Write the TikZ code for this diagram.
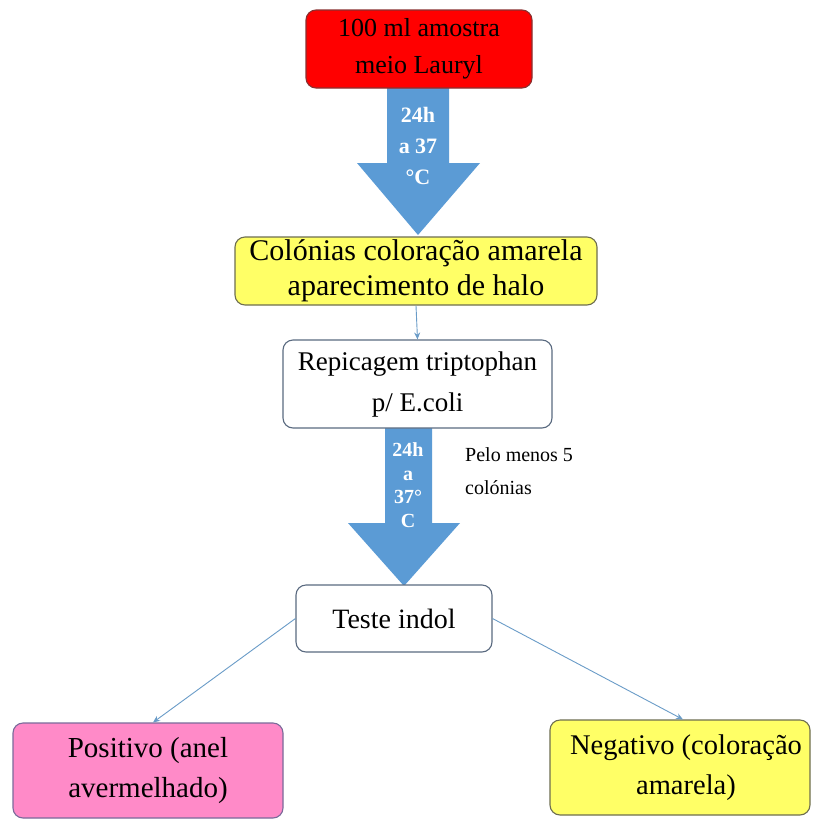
\documentclass[tikz,border=0pt]{standalone}
\usepackage{fontspec}
\setmainfont{Liberation Serif}
\usetikzlibrary{calc,arrows.meta}
\definecolor{arrblue}{HTML}{5B9BD5}
\definecolor{lineblue}{HTML}{6A9CC8}
\definecolor{boxred}{HTML}{FF0000}
\definecolor{redborder}{HTML}{8A3030}
\definecolor{boxyellow}{HTML}{FFFF66}
\definecolor{yellowborder}{HTML}{6E6E50}
\definecolor{boxpink}{HTML}{FF8AC8}
\definecolor{pinkborder}{HTML}{7A6A9A}
\definecolor{whiteborder}{HTML}{5A6A80}
\begin{document}
\begin{tikzpicture}[x=1pt,y=-1pt,
  box/.style={draw, rounded corners=10pt, line width=1.1pt, align=center, inner sep=0pt, text=black},
  bigarrow/.style={fill=arrblue},
  arrtext/.style={text=white, align=center, font=\bfseries},
  thinarrow/.style={draw=lineblue, line width=0.9pt, -{Stealth[length=7pt,width=6pt]}}
]
\useasboundingbox (0,0) rectangle (814,820);
\fill[white] (0,0) rectangle (814,820);

% big arrows
\fill[bigarrow] (387,86) -- (449,86) -- (449,163) -- (480,163) -- (418,235) -- (357,163) -- (387,163) -- cycle;
\fill[bigarrow] (385,426) -- (432,426) -- (432,523) -- (460,523) -- (404,586) -- (348,523) -- (385,523) -- cycle;

% boxes
\node[box, fill=boxred, draw=redborder, minimum width=226pt, minimum height=78pt,
  font=\fontsize{26}{37}\selectfont] (sample) at (419,49) {\raisebox{-3pt}{100 ml amostra}\\\raisebox{-3pt}{meio Lauryl}};
\node[box, fill=boxyellow, draw=yellowborder, minimum width=362pt, minimum height=68pt,
  font=\fontsize{30}{35}\selectfont] (colonias) at (416,271) {Colónias coloração amarela\\aparecimento de halo};
\node[box, fill=white, draw=whiteborder, minimum width=269pt, minimum height=88pt,
  font=\fontsize{27}{41}\selectfont] (repic) at (417.5,384) {Repicagem triptophan\\p/ E.coli};
\node[box, fill=white, draw=whiteborder, minimum width=196pt, minimum height=67pt,
  font=\fontsize{28}{34}\selectfont] (teste) at (394,618.5) {Teste indol};
\node[box, fill=boxpink, draw=pinkborder, minimum width=270pt, minimum height=95pt,
  font=\fontsize{29}{40}\selectfont] (pos) at (148,770.5) {Positivo (anel\\avermelhado)};
\node[box, fill=boxyellow, draw=yellowborder, minimum width=260pt, minimum height=95pt,
  font=\fontsize{28.5}{40}\selectfont] (neg) at (680,767.5) {\hspace*{12pt}Negativo (coloração\\\hspace*{12pt}amarela)};

% arrow texts
\node[arrtext, font=\fontsize{22}{31}\selectfont\bfseries] (t1) at (418,146) {24h\\a 37\\°C};
\node[arrtext, font=\fontsize{20}{23.5}\selectfont\bfseries] (t2) at (408,485) {24h\\a\\37°\\C};
\node[align=left, anchor=west, inner sep=0pt, font=\fontsize{20}{33}\selectfont] (pelo) at (465,471) {Pelo menos 5\\colónias};

% thin connectors
\draw[thinarrow] (colonias.south) -- (repic.north);
\draw[thinarrow] (teste.west) -- ($(pos.north)+(5,0)$);
\draw[thinarrow] (teste.east) -- ($(neg.north)+(3,0)$);
\end{tikzpicture}
\end{document}
